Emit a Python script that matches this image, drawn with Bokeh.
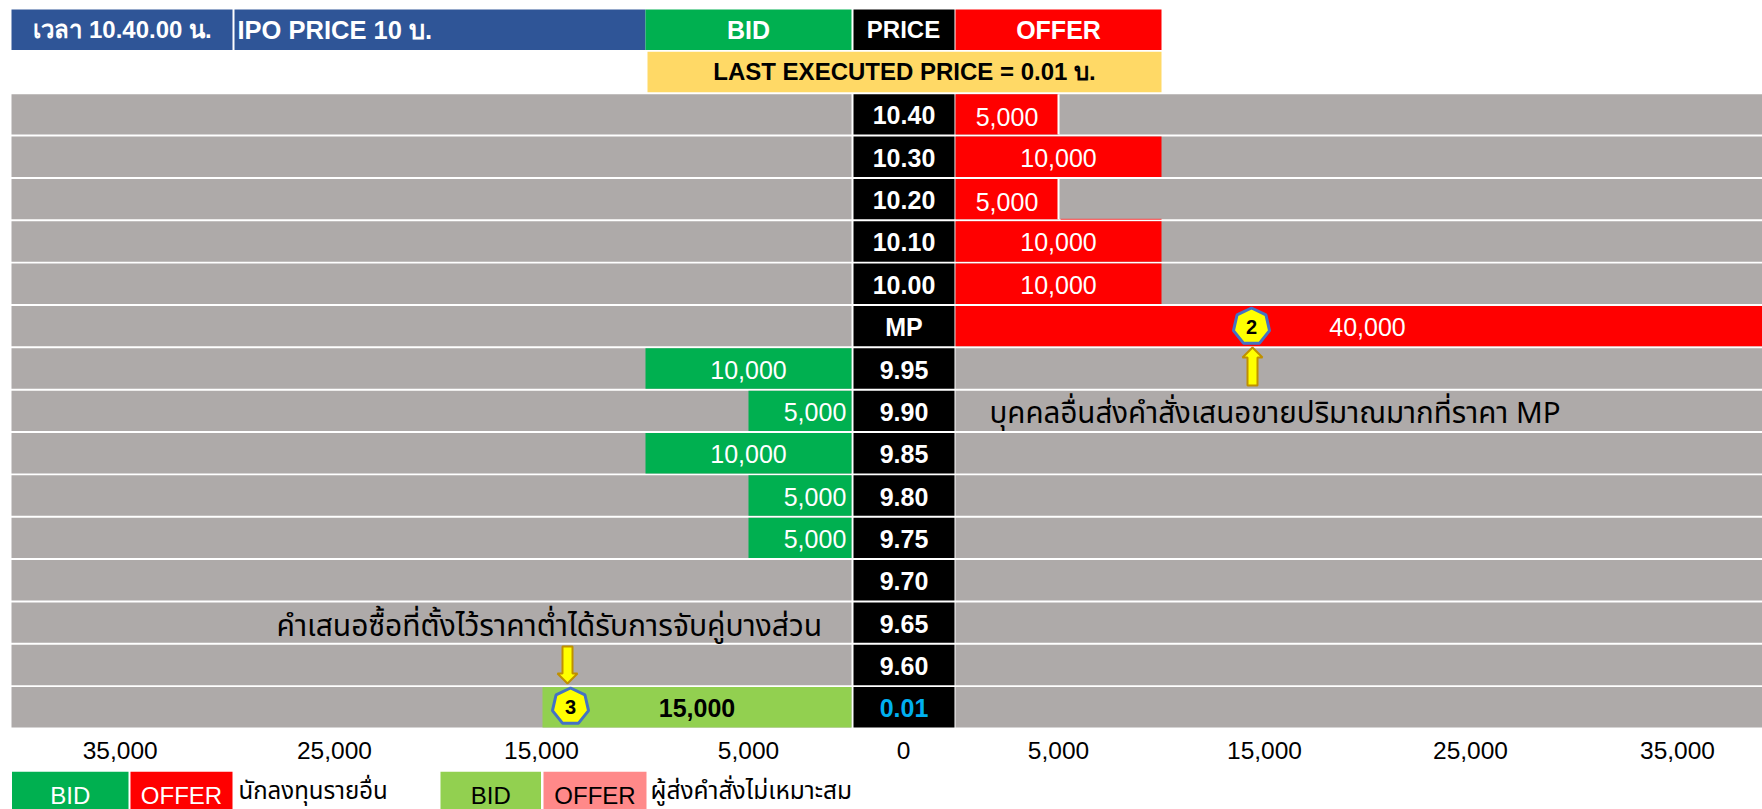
import math
from bokeh.plotting import figure
from bokeh.layouts import column
from bokeh.models import Range1d, FixedTicker, LinearAxis
from bokeh.core.properties import value
from bokeh.embed import file_html
from bokeh.resources import INLINE

# ---- data
prices = ["10.40", "10.30", "10.20", "10.10", "10.00", "MP", "9.95", "9.90", "9.85",
          "9.80", "9.75", "9.70", "9.65", "9.60", "0.01"]
offer = [5000, 10000, 5000, 10000, 10000, 40000, 0, 0, 0, 0, 0, 0, 0, 0, 0]
bid = [0, 0, 0, 0, 0, 0, 10000, 5000, 10000, 5000, 5000, 0, 0, 0, 15000]
tick_labels = ["35,000", "25,000", "15,000", "5,000", "0", "5,000", "15,000", "25,000", "35,000"]
header_time = "เวลา 10.40.00 น."
header_ipo = "IPO PRICE 10 บ."
header_last = "LAST EXECUTED PRICE = 0.01 บ."
note_offer = "บุคคลอื่นส่งคำสั่งเสนอขายปริมาณมากที่ราคา  MP"
note_bid = "คำเสนอซื้อที่ตั้งไว้ราคาต่ำได้รับการจับคู่บางส่วน"
legend_a = "นักลงทุนรายอื่น"
legend_b = "ผู้ส่งคำสั่งไม่เหมาะสม"

# ---- geometry (window pixels)
W, FRAME_BOTTOM, AXIS_H, LEG_H = 1762, 729, 42, 38
ORIGIN = 0
PX_PER_UNIT = 0.0206
BID_ZERO = 851
OFFER_ZERO = 955
ROW0, PITCH = 29.2, 42.35
HALF = 0.4765
GAP = (OFFER_ZERO - BID_ZERO) / PX_PER_UNIT
SANS = value("Liberation Sans")
THAI = value("Noto Sans Thai")
GRAY, BLUE, GREEN, RED = "#AEAAA9", "#2F5597", "#00B050", "#FF0000"
YEL, LGREEN, LRED, CYAN = "#FFD966", "#92D050", "#FF8989", "#00B0F0"


def xd(px):
    return (px - BID_ZERO) / PX_PER_UNIT


def yd(px):
    return (px - ROW0) / PITCH


p = figure(width=W, height=FRAME_BOTTOM - ORIGIN + AXIS_H, output_backend="svg", toolbar_location=None,
           x_range=Range1d(xd(ORIGIN), xd(ORIGIN + W)),
           y_range=Range1d(yd(FRAME_BOTTOM), yd(ORIGIN)),
           x_axis_location=None, y_axis_location=None,
           min_border=0, min_border_bottom=AXIS_H, outline_line_color=None)
p.grid.visible = False

rows = [i + 2 for i in range(len(prices))]


def box(left, right, r, color):
    p.quad(left=left, right=right, top=r - HALF, bottom=r + HALF, fill_color=color, line_color=None)


def label(x, r, txt, color="#FFFFFF", size=25, bold=False, dy=1, align="center", dx=0, font=SANS):
    p.text(x=[x], y=[r], text=[txt], text_color=color, text_font=font, text_font_size=f"{size}px",
           text_font_style="bold" if bold else "normal", text_align=align, text_baseline="middle",
           y_offset=dy, x_offset=dx)


# gray background rows
for r in rows:
    box(xd(11), 0, r, GRAY)
    box(GAP, xd(W + ORIGIN + 4), r, GRAY)

# headers
box(xd(11), xd(232), 0, BLUE)
box(xd(234), xd(645), 0, BLUE)
box(-10000, 0, 0, GREEN)
box(xd(853), xd(954), 0, "#000000")
box(GAP, GAP + 10000, 0, RED)
box(xd(647), GAP + 10000, 1, YEL)
label(xd(122), 0, header_time, bold=True, size=24, dy=0)
label(xd(237), 0, header_ipo, bold=True, size=25.5, align="left", dy=0)
label(-5000, 0, "BID", bold=True, dy=0)
label(xd(903), 0, "PRICE", bold=True, size=24, dy=0)
label(GAP + 5000, 0, "OFFER", bold=True, dy=0)
label(xd(904), 1, header_last, color="#000000", bold=True, size=24, dy=-1)

# bars, prices
for i, r in enumerate(rows):
    box(xd(853), xd(954), r, "#000000")
    label(xd(903.5), r, prices[i], color=CYAN if prices[i] == "0.01" else "#FFFFFF", bold=True)
    if offer[i]:
        box(GAP, GAP + offer[i], r, RED)
        if offer[i] == 5000:
            p.segment(x0=[GAP + offer[i]], x1=[GAP + offer[i]], y0=[r - HALF], y1=[r + HALF],
                      line_color="#FFFFFF", line_width=2)
            label(GAP + offer[i] / 2, r, f"{offer[i]:,}", dy=3)
        else:
            label(GAP + offer[i] / 2, r, f"{offer[i]:,}")
    if bid[i]:
        last = prices[i] == "0.01"
        box(-bid[i], 0, r, LGREEN if last else GREEN)
        if last:
            label(-bid[i] / 2, r, f"{bid[i]:,}", color="#000000", bold=True, size=25)
        elif bid[i] == 5000:
            label(-bid[i] / 2, r, f"{bid[i]:,}", dx=15)
        else:
            label(-bid[i] / 2, r, f"{bid[i]:,}")

# thin red sliver along the foot of the 10.20 row, as in the reference
r102 = rows[prices.index("10.20")]
p.segment(x0=[GAP + 5000 + 100], x1=[GAP + 10000], y0=[r102 + HALF], y1=[r102 + HALF],
          line_color="#FF4040", line_width=1)

# notes
label(xd(989), yd(413), note_offer, color="#000000", size=29.5, align="left", font=THAI, dy=0)
label(xd(276), yd(626), note_bid, color="#000000", size=30, align="left", font=THAI, dy=0)


def arrow(cx, tip, tail, head_y):
    xs = [cx, cx + 10, cx + 5, cx + 5, cx - 5, cx - 5, cx - 10]
    ys = [tip, head_y, head_y, tail, tail, head_y, head_y]
    p.patch([xd(v) for v in xs], [yd(v) for v in ys], fill_color="#FFFF00", line_color="#BF9000", line_width=2)


def badge(cx, cy, txt):
    r = 18.5
    xs = [cx + r * math.sin(2 * math.pi * k / 7) for k in range(7)]
    ys = [cy - r * math.cos(2 * math.pi * k / 7) for k in range(7)]
    p.patch([xd(v) for v in xs], [yd(v) for v in ys], fill_color="#FFFF00", line_color="#4472C4", line_width=3)
    label(xd(cx), yd(cy), txt, color="#000000", bold=True, size=20, dy=0)


badge(1251, 326, "2")
arrow(1252, 347, 385, 357)
badge(570, 706, "3")
arrow(567, 683, 646, 673)

# axis
tick_units = [-35500, -25100, -15050, -5000, GAP / 2, GAP + 5000, GAP + 15000, GAP + 25000, GAP + 35050]
axis = LinearAxis(ticker=FixedTicker(ticks=tick_units),
                  major_label_overrides=dict(zip(tick_units, tick_labels)),
                  axis_line_color=None, major_tick_line_color=None, minor_tick_line_color=None,
                  major_tick_in=0, major_tick_out=0, major_label_standoff=12,
                  major_label_text_font="Liberation Sans", major_label_text_font_size="24.5px",
                  major_label_text_color="#000000")
p.add_layout(axis, "below")

# legend strip
q = figure(width=W, height=LEG_H, output_backend="svg", toolbar_location=None,
           x_range=Range1d(ORIGIN, ORIGIN + W), y_range=Range1d(809, 771),
           x_axis_location=None, y_axis_location=None, min_border=0, outline_line_color=None)
q.grid.visible = False


def swatch(x0, x1, color, txt, tcolor):
    q.quad(left=x0, right=x1, top=771, bottom=809, fill_color=color, line_color=None)
    q.text(x=[(x0 + x1) / 2], y=[795], text=[txt], text_color=tcolor, text_font=SANS, text_font_size="24px",
           text_align="center", text_baseline="middle")


def legend_text(x, txt, size):
    q.text(x=[x], y=[791], text=[txt], text_color="#000000", text_font=THAI, text_font_size=size,
           text_align="left", text_baseline="middle")


swatch(11.5, 128, GREEN, "BID", "#FFFFFF")
swatch(130, 232, RED, "OFFER", "#FFFFFF")
legend_text(238, legend_a, "24px")
swatch(440, 540.5, LGREEN, "BID", "#000000")
swatch(543, 646, LRED, "OFFER", "#000000")
legend_text(650, legend_b, "24.5px")

page = column(p, q, spacing=0)
open("out.html", "w").write(file_html(page, INLINE))
